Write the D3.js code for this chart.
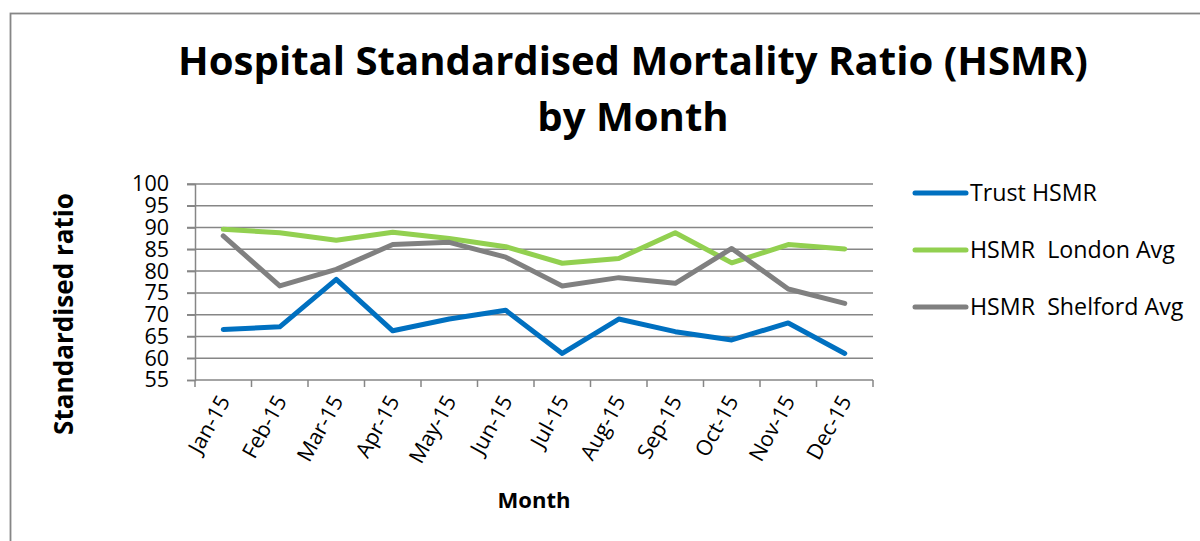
<!DOCTYPE html>
<html>
<head>
<meta charset="utf-8">
<script src="https://cdn.jsdelivr.net/npm/d3@7/dist/d3.min.js"></script>
<style>
  html, body { margin: 0; padding: 0; background: #fff; }
  svg { display: block; font-family: "Open Sans", "DejaVu Sans", sans-serif; }
</style>
</head>
<body>
<svg id="chart" width="1200" height="541"></svg>
<script>
// ---- Data ----
const months = ["Jan-15","Feb-15","Mar-15","Apr-15","May-15","Jun-15","Jul-15","Aug-15","Sep-15","Oct-15","Nov-15","Dec-15"];
const trustHSMR    = [66.6, 67.2, 78.1, 66.3, 69.0, 71.0, 61.1, 69.0, 66.1, 64.2, 68.1, 61.1];
const londonAvg    = [89.6, 88.8, 87.1, 88.9, 87.5, 85.6, 81.8, 82.9, 88.8, 81.9, 86.1, 85.1];
const shelfordAvg  = [88.1, 76.6, 80.4, 86.1, 86.6, 83.2, 76.6, 78.5, 77.2, 85.2, 75.9, 72.6];
const seriesNames  = ["Trust HSMR", "HSMR  London Avg", "HSMR  Shelford Avg"];
const seriesColors = ["#0070C0", "#92D050", "#808080"];
const yTicks = [55, 60, 65, 70, 75, 80, 85, 90, 95, 100];
const titleLines = ["Hospital Standardised Mortality Ratio (HSMR)", "by Month"];
const yTitle = "Standardised ratio";
const xTitle = "Month";

const series = [trustHSMR, londonAvg, shelfordAvg].map((vals, i) => ({
  name: seriesNames[i], color: seriesColors[i],
  points: vals.map((v, j) => ({ m: months[j], v }))
}));

const svg = d3.select("#chart");
const axisGray = "#868686";

// fit a text element's font size to a target width
function fit(sel, target) {
  const base = parseFloat(sel.attr("font-size"));
  const w = sel.node().getComputedTextLength();
  if (w > 0) sel.attr("font-size", (base * target / w).toFixed(2));
  return parseFloat(sel.attr("font-size"));
}

// chart border
svg.append("rect")
  .attr("x", 10.5).attr("y", 13.5)
  .attr("width", 1400).attr("height", 800)
  .attr("fill", "none").attr("stroke", axisGray).attr("stroke-width", 1.8);

// ---- Title ----
const t1 = svg.append("text").attr("x", 633).attr("y", 75)
  .attr("text-anchor", "middle").attr("font-weight", "bold").attr("font-size", 40)
  .attr("fill", "#000").text(titleLines[0]);
const tSize = fit(t1, 910);
svg.append("text").attr("x", 633).attr("y", 131)
  .attr("text-anchor", "middle").attr("font-weight", "bold").attr("font-size", tSize)
  .attr("fill", "#000").text(titleLines[1]);

// ---- Scales ----
const x = d3.scaleBand().domain(months).range([195, 873]);
const y = d3.scaleLinear().domain([55, 100]).range([380, 184]);

// gridlines
svg.append("g").selectAll("line").data(yTicks.filter(d => d !== 55)).join("line")
  .attr("x1", 187).attr("x2", 873)
  .attr("y1", d => y(d)).attr("y2", d => y(d))
  .attr("stroke", axisGray).attr("stroke-width", 1.5);

// y axis
const yAxis = svg.append("g").attr("transform", "translate(195,0)")
  .call(d3.axisLeft(y).tickValues(yTicks).tickSize(8).tickPadding(18).tickFormat(d3.format("d")));
yAxis.select(".domain").attr("stroke", axisGray).attr("stroke-width", 1.5);
yAxis.selectAll(".tick line").attr("stroke", axisGray).attr("stroke-width", 1.5);
yAxis.selectAll(".tick text").attr("font-size", 21.5).attr("fill", "#000")
  .attr("font-family", "'Open Sans', sans-serif");

// x axis line and ticks at band boundaries
svg.append("line").attr("x1", 195).attr("x2", 873).attr("y1", 380).attr("y2", 380)
  .attr("stroke", axisGray).attr("stroke-width", 1.5);
const boundaries = months.map(m => x(m)).concat([x.range()[1]]);
svg.append("g").selectAll("line").data(boundaries).join("line")
  .attr("x1", d => d).attr("x2", d => d).attr("y1", 380).attr("y2", 387)
  .attr("stroke", axisGray).attr("stroke-width", 1.5);

// x tick labels
svg.append("g").selectAll("text").data(months).join("text")
  .attr("transform", d => `translate(${x(d) + x.bandwidth() / 2 + 1},397) rotate(-61)`)
  .attr("text-anchor", "end").attr("dy", "0.35em")
  .attr("font-size", 21.5).attr("fill", "#000").text(d => d);

// axis titles
const yt = svg.append("text").attr("transform", "translate(73,314) rotate(-90)")
  .attr("text-anchor", "middle").attr("font-weight", "bold").attr("font-size", 22)
  .attr("fill", "#000").text(yTitle);
fit(yt, 242);
const xt = svg.append("text").attr("x", 534).attr("y", 508)
  .attr("text-anchor", "middle").attr("font-weight", "bold").attr("font-size", 22)
  .attr("fill", "#000").text(xTitle);
fit(xt, 73);

// ---- Lines ----
const line = d3.line().x(d => x(d.m) + x.bandwidth() / 2).y(d => y(d.v));
svg.append("g").selectAll("path").data(series).join("path")
  .attr("d", d => line(d.points))
  .attr("fill", "none").attr("stroke", d => d.color).attr("stroke-width", 5)
  .attr("stroke-linejoin", "round").attr("stroke-linecap", "round");

// ---- Legend ----
const legendY = [193, 250, 307];
const lg = svg.append("g").selectAll("g").data(series).join("g")
  .attr("transform", (d, i) => `translate(0,${legendY[i]})`);
lg.append("line").attr("x1", 915).attr("x2", 966).attr("y1", 0).attr("y2", 0)
  .attr("stroke", d => d.color).attr("stroke-width", 5).attr("stroke-linecap", "round");
const lgText = lg.append("text").attr("x", 970).attr("y", 8)
  .attr("font-size", 23).attr("fill", "#000")
  .style("white-space", "pre").text(d => d.name);
const lsize = fit(d3.select(lgText.nodes()[0]), 127);
lgText.attr("font-size", lsize);
</script>
</body>
</html>
